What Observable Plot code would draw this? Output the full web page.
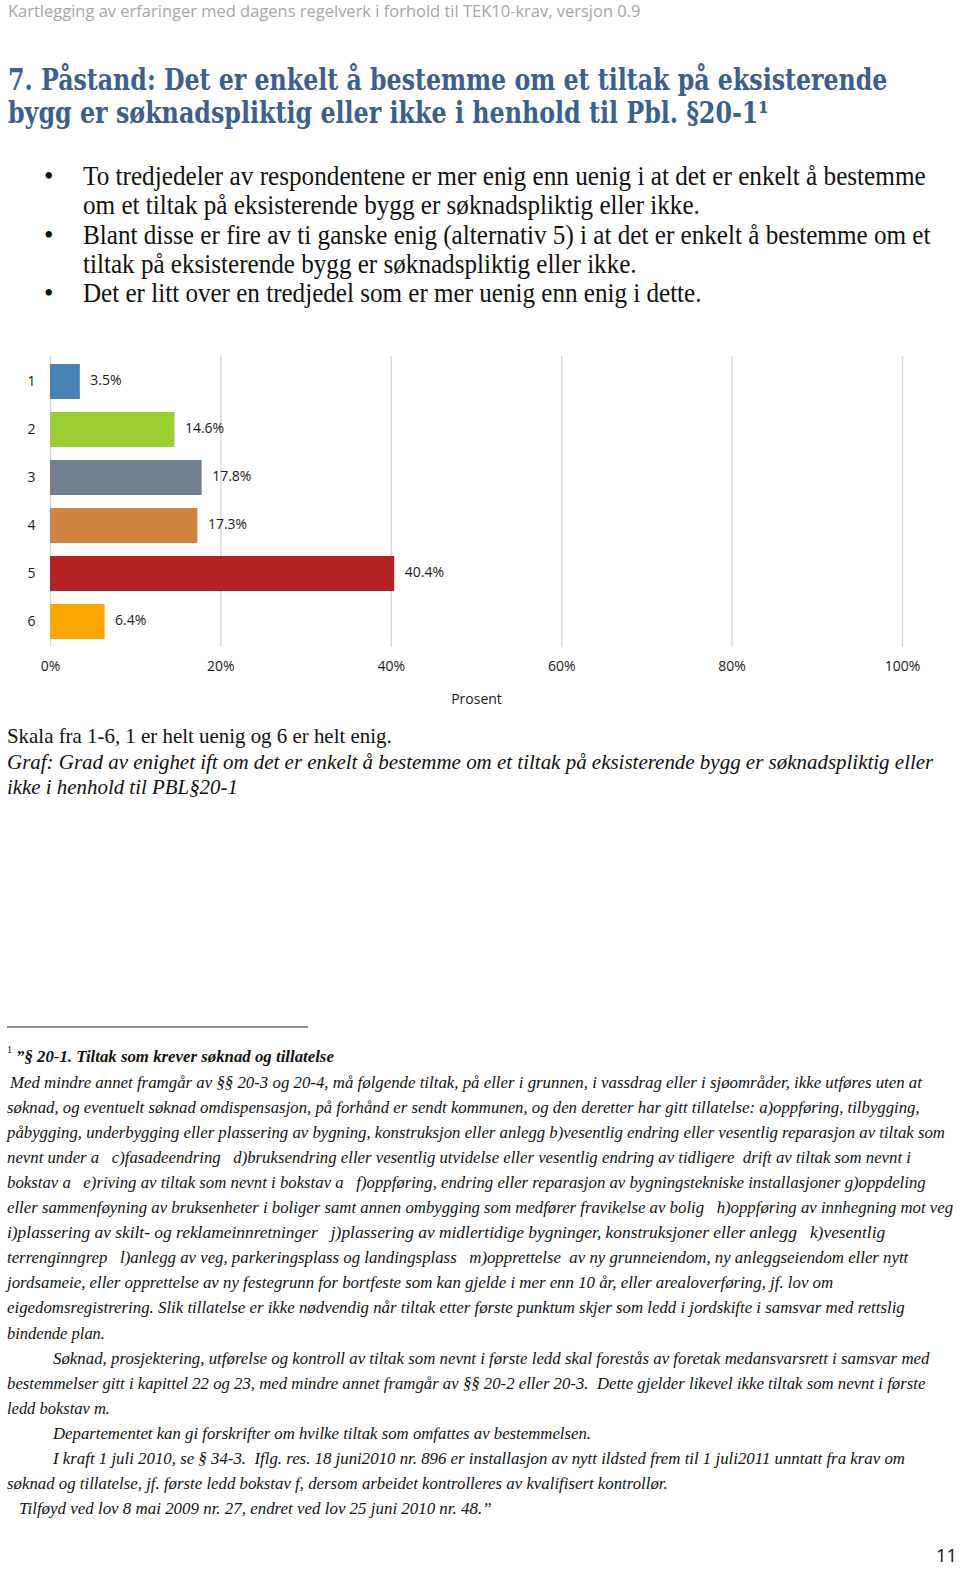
<!DOCTYPE html>
<html>
<head>
<meta charset="utf-8">
<script src="https://cdn.jsdelivr.net/npm/d3@7"></script>
<script src="https://cdn.jsdelivr.net/npm/@observablehq/plot@0.6"></script>
<style>
  html, body { margin: 0; padding: 0; background: #fff; }
  #page { position: relative; width: 960px; height: 1569px; overflow: hidden; background: #fff; }
  #doc { position: absolute; left: 0; top: 0; }
  #chart { position: absolute; left: 0; top: 340px; }
  #doc text { white-space: pre; }
</style>
</head>
<body>
<div id="page">
  <svg id="doc" width="960" height="1569"></svg>
  <div id="chart"></div>
</div>
<script>
// ---------- chart data ----------
const categories = ["1", "2", "3", "4", "5", "6"];
const values = [3.5, 14.6, 17.8, 17.3, 40.4, 6.4];
const barColors = ["#4682b4", "#9acd32", "#708090", "#cd853f", "#b22222", "#ffa500"];
const xTicks = [0, 20, 40, 60, 80, 100];
const xLabel = "Prosent";

// ---------- document text ----------
const headerText = "Kartlegging av erfaringer med dagens regelverk i forhold til TEK10-krav, versjon 0.9";
const titleLines = [
  "7. Påstand: Det er enkelt å bestemme om et tiltak på eksisterende",
  "bygg er søknadspliktig eller ikke i henhold til Pbl. §20-1¹"
];
const bulletLines = [
  "To tredjedeler av respondentene er mer enig enn uenig i at det er enkelt å bestemme",
  "om et tiltak på eksisterende bygg er søknadspliktig eller ikke.",
  "Blant disse er fire av ti ganske enig (alternativ 5) i at det er enkelt å bestemme om et",
  "tiltak på eksisterende bygg er søknadspliktig eller ikke.",
  "Det er litt over en tredjedel som er mer uenig enn enig i dette."
];
const captionLines = [
  "Skala fra 1-6, 1 er helt uenig og 6 er helt enig.",
  "Graf: Grad av enighet ift om det er enkelt å bestemme om et tiltak på eksisterende bygg er søknadspliktig eller",
  "ikke i henhold til PBL§20-1"
];
const footHead = "”§ 20-1. Tiltak som krever søknad og tillatelse";
const footLines = [
  "Med mindre annet framgår av §§ 20-3 og 20-4, må følgende tiltak, på eller i grunnen, i vassdrag eller i sjøområder, ikke utføres uten at",
  "søknad, og eventuelt søknad omdispensasjon, på forhånd er sendt kommunen, og den deretter har gitt tillatelse: a)oppføring, tilbygging,",
  "påbygging, underbygging eller plassering av bygning, konstruksjon eller anlegg b)vesentlig endring eller vesentlig reparasjon av tiltak som",
  "nevnt under a   c)fasadeendring   d)bruksendring eller vesentlig utvidelse eller vesentlig endring av tidligere  drift av tiltak som nevnt i",
  "bokstav a   e)riving av tiltak som nevnt i bokstav a   f)oppføring, endring eller reparasjon av bygningstekniske installasjoner g)oppdeling",
  "eller sammenføyning av bruksenheter i boliger samt annen ombygging som medfører fravikelse av bolig   h)oppføring av innhegning mot veg",
  "i)plassering av skilt- og reklameinnretninger   j)plassering av midlertidige bygninger, konstruksjoner eller anlegg   k)vesentlig",
  "terrenginngrep   l)anlegg av veg, parkeringsplass og landingsplass   m)opprettelse  av ny grunneiendom, ny anleggseiendom eller nytt",
  "jordsameie, eller opprettelse av ny festegrunn for bortfeste som kan gjelde i mer enn 10 år, eller arealoverføring, jf. lov om",
  "eigedomsregistrering. Slik tillatelse er ikke nødvendig når tiltak etter første punktum skjer som ledd i jordskifte i samsvar med rettslig",
  "bindende plan.",
  "Søknad, prosjektering, utførelse og kontroll av tiltak som nevnt i første ledd skal forestås av foretak medansvarsrett i samsvar med",
  "bestemmelser gitt i kapittel 22 og 23, med mindre annet framgår av §§ 20-2 eller 20-3.  Dette gjelder likevel ikke tiltak som nevnt i første",
  "ledd bokstav m.",
  "Departementet kan gi forskrifter om hvilke tiltak som omfattes av bestemmelsen.",
  "I kraft 1 juli 2010, se § 34-3.  Iflg. res. 18 juni2010 nr. 896 er installasjon av nytt ildsted frem til 1 juli2011 unntatt fra krav om",
  "søknad og tillatelse, jf. første ledd bokstav f, dersom arbeidet kontrolleres av kvalifisert kontrollør.",
  "Tilføyd ved lov 8 mai 2009 nr. 27, endret ved lov 25 juni 2010 nr. 48.”"
];
const pageNumber = "11";

// ---------- layout (x start, x end, baseline) ----------
const titleLayout = [[8, 888, 90], [8, 769, 123]];
const bulletLayout = [[83, 926, 185], [83, 700, 214], [83, 931, 244], [83, 637, 273], [83, 702, 302]];
const bulletDots = [0, 2, 4];
const captionLayout = [[7, 392, 743], [7, 934, 769], [7, 238, 794]];
const footLayout = [
  [10, 923], [7, 920], [7, 946], [7, 912], [7, 927], [7, 954], [7, 886], [7, 909],
  [7, 834], [7, 905], [7, 105], [53, 930], [7, 926], [7, 110], [53, 591], [53, 906], [7, 668], [19, 492]
];

const doc = d3.select("#doc");
function put(txt, x0, x1, y, opts) {
  const t = doc.append("text")
    .attr("x", 0).attr("y", 0)
    .attr("font-family", opts.font)
    .attr("font-size", opts.size)
    .attr("fill", opts.color || "#111")
    .text(txt);
  if (opts.weight) t.attr("font-weight", opts.weight);
  if (opts.style) t.attr("font-style", opts.style);
  let sx = 1;
  if (x1 != null) {
    const w = t.node().getComputedTextLength();
    if (w > 0) sx = (x1 - x0) / w;
  }
  t.attr("transform", `translate(${x0},${y}) scale(${sx},1)`);
  return t;
}

const SERIF = "'Liberation Serif', 'Times New Roman', serif";
put(headerText, 8, 641, 17, {font: "'Open Sans', sans-serif", size: 17, color: "#a6a6a6"});
titleLines.forEach((s, i) => {
  const [a, b, y] = titleLayout[i];
  put(s, a, b, y, {font: "'DejaVu Serif', serif", size: 30, weight: "bold", color: "#3a6090"});
});
bulletLines.forEach((s, i) => {
  const [a, b, y] = bulletLayout[i];
  put(s, a, b, y, {font: SERIF, size: 27});
});
bulletDots.forEach(i => put("•", 44, null, bulletLayout[i][2], {font: SERIF, size: 27}));
captionLines.forEach((s, i) => {
  const [a, b, y] = captionLayout[i];
  put(s, a, b, y, {font: SERIF, size: 21, style: i > 0 ? "italic" : null});
});
doc.append("line").attr("x1", 7).attr("x2", 308).attr("y1", 1027).attr("y2", 1027)
  .attr("stroke", "#222").attr("stroke-width", 1.2);
put("1", 7, null, 1053, {font: SERIF, size: 10});
put(footHead, 16, 334, 1062, {font: SERIF, size: 17.5, weight: "bold", style: "italic"});
footLines.forEach((s, i) => {
  const [a, b] = footLayout[i];
  put(s, a, b, 1087.5 + i * 25.1, {font: SERIF, size: 17.5, style: "italic"});
});
put(pageNumber, 936, 957, 1562, {font: "'Open Sans', sans-serif", size: 19, color: "#111"});

// ---------- chart ----------
const data = categories.map((c, i) => ({cat: c, value: values[i]}));
const chart = Plot.plot({
  width: 960,
  height: 380,
  marginTop: 16,
  marginBottom: 73,
  marginLeft: 50,
  marginRight: 58,
  style: {fontFamily: "'Open Sans', sans-serif", fontSize: "14px", color: "#1a1a1a", background: "transparent"},
  x: {domain: [0, 100], ticks: xTicks, tickFormat: d => d + "%", tickSize: 0, tickPadding: 14, label: null},
  y: {domain: categories, paddingInner: 0.28, paddingOuter: 0.145, tickSize: 0, tickPadding: 15, label: null},
  color: {domain: categories, range: barColors},
  marks: [
    Plot.ruleX(xTicks, {stroke: "#d9d9d9", strokeWidth: 1.5}),
    Plot.barX(data, {x: "value", y: "cat", fill: "cat"}),
    Plot.text(data, {x: "value", y: "cat", text: d => d.value.toFixed(1) + "%", textAnchor: "start", dx: 10, dy: -1, fill: "#1a1a1a"}),
    Plot.text([xLabel], {frameAnchor: "bottom", dy: 56, text: d => d, fill: "#1a1a1a"})
  ]
});
document.getElementById("chart").appendChild(chart);
</script>
</body>
</html>
